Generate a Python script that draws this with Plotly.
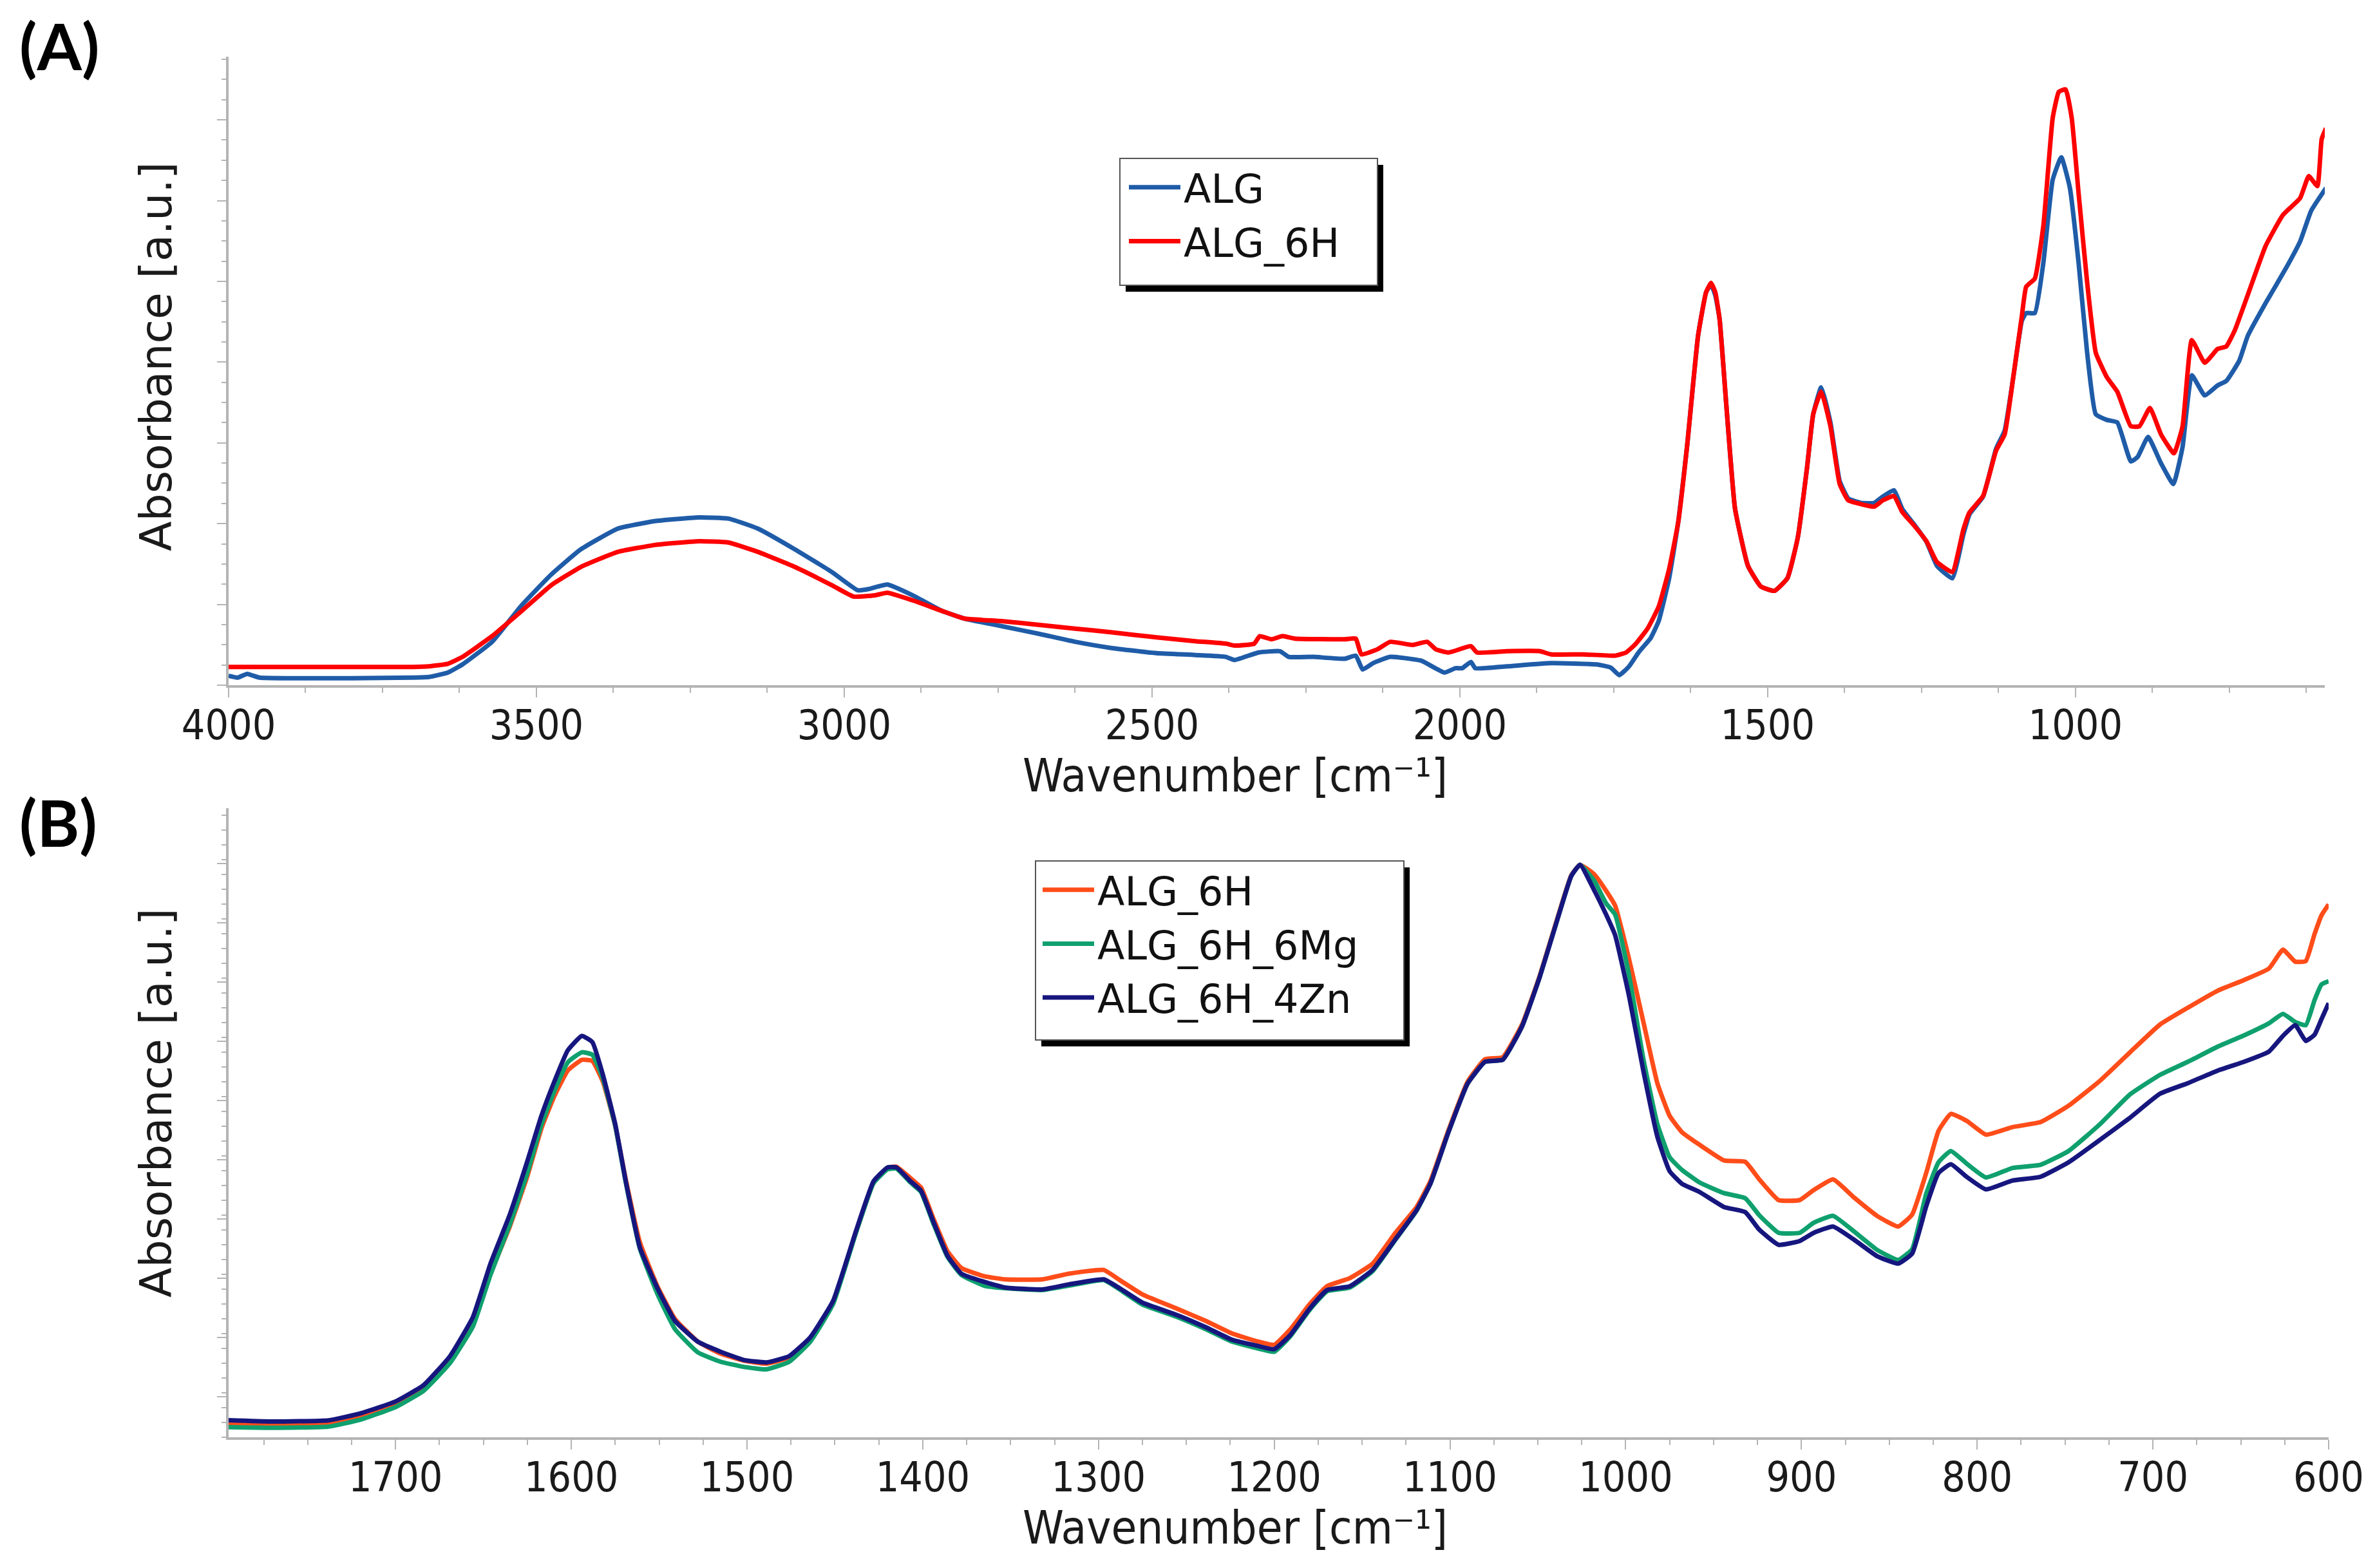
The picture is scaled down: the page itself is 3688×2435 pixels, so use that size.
import plotly.graph_objects as go

# ---- Panel A: ALG vs ALG_6H, 4000-600 cm-1 ----
wn_alg = [4000, 3985, 3970, 3950, 3900, 3800, 3700, 3674, 3644, 3620, 3572, 3524, 3476, 3428, 3368,
          3308, 3236, 3188, 3140, 3080, 3020, 2978, 2960, 2930, 2889, 2841, 2805, 2745, 2685, 2625,
          2565, 2493, 2430, 2380, 2366, 2327, 2292, 2278, 2239, 2187, 2169, 2158, 2141, 2113, 2063,
          2025, 2007, 1996, 1982, 1975, 1923, 1852, 1778, 1755, 1741, 1725, 1709, 1690, 1677, 1660,
          1645, 1631, 1613, 1600, 1592, 1585, 1578, 1567, 1553, 1532, 1511, 1489, 1468, 1451, 1436,
          1426, 1413, 1398, 1383, 1369, 1348, 1327, 1313, 1295, 1281, 1263, 1242, 1225, 1200, 1182,
          1172, 1150, 1129, 1115, 1101, 1087, 1080, 1066, 1052, 1037, 1023, 1009, 995, 981, 967,
          949, 932, 910, 899, 882, 861, 841, 826, 811, 790, 769, 755, 734, 720, 691, 656, 635, 617, 593]
abs_alg = [0.015, 0.012, 0.018, 0.012, 0.011, 0.011, 0.012, 0.013, 0.020, 0.033, 0.069, 0.127, 0.176,
           0.216, 0.249, 0.261, 0.267, 0.265, 0.249, 0.216, 0.180, 0.151, 0.153, 0.160, 0.143, 0.118,
           0.106, 0.094, 0.082, 0.069, 0.059, 0.051, 0.048, 0.045, 0.040, 0.052, 0.054, 0.045, 0.045,
           0.042, 0.047, 0.025, 0.035, 0.045, 0.039, 0.020, 0.027, 0.027, 0.037, 0.027, 0.030, 0.035,
           0.033, 0.028, 0.016, 0.030, 0.053, 0.075, 0.102, 0.170, 0.261, 0.379, 0.556, 0.625, 0.637,
           0.620, 0.582, 0.444, 0.281, 0.190, 0.157, 0.150, 0.170, 0.235, 0.346, 0.431, 0.474, 0.418,
           0.325, 0.297, 0.290, 0.290, 0.300, 0.310, 0.280, 0.257, 0.228, 0.190, 0.170, 0.240, 0.272,
           0.300, 0.376, 0.405, 0.490, 0.580, 0.592, 0.592, 0.673, 0.804, 0.840, 0.791, 0.673, 0.529,
           0.431, 0.422, 0.418, 0.356, 0.363, 0.395, 0.353, 0.320, 0.379, 0.493, 0.461, 0.477, 0.484,
           0.516, 0.556, 0.608, 0.667, 0.706, 0.755, 0.791]

wn_6h = [4000, 3900, 3800, 3700, 3674, 3644, 3620, 3572, 3524, 3476, 3428, 3368, 3308, 3236, 3188,
         3140, 3080, 3020, 2985, 2950, 2930, 2889, 2841, 2805, 2745, 2685, 2625, 2565, 2493, 2430,
         2380, 2366, 2334, 2325, 2306, 2288, 2268, 2187, 2169, 2160, 2134, 2113, 2077, 2053, 2039,
         2018, 1982, 1972, 1923, 1870, 1852, 1800, 1747, 1730, 1715, 1695, 1677, 1660, 1645, 1631,
         1613, 1600, 1592, 1585, 1578, 1567, 1553, 1532, 1511, 1489, 1468, 1451, 1436, 1426, 1413,
         1398, 1383, 1369, 1348, 1327, 1313, 1295, 1281, 1263, 1242, 1225, 1200, 1182, 1172, 1150,
         1129, 1115, 1101, 1087, 1080, 1066, 1052, 1037, 1027, 1016, 1006, 995, 981, 967, 949, 932,
         910, 896, 879, 861, 840, 826, 811, 790, 769, 755, 741, 720, 691, 663, 635, 621, 607, 600, 593]
abs_6h = [0.029, 0.029, 0.029, 0.029, 0.030, 0.034, 0.045, 0.078, 0.118, 0.159, 0.188, 0.212, 0.223,
          0.229, 0.227, 0.212, 0.188, 0.159, 0.141, 0.143, 0.147, 0.135, 0.118, 0.106, 0.102, 0.096,
          0.090, 0.084, 0.076, 0.070, 0.066, 0.063, 0.066, 0.078, 0.073, 0.078, 0.074, 0.073, 0.074,
          0.049, 0.057, 0.069, 0.064, 0.069, 0.057, 0.052, 0.062, 0.052, 0.054, 0.054, 0.049, 0.049,
          0.047, 0.052, 0.065, 0.090, 0.125, 0.185, 0.261, 0.379, 0.556, 0.625, 0.640, 0.625, 0.582,
          0.444, 0.281, 0.190, 0.157, 0.150, 0.170, 0.235, 0.346, 0.431, 0.467, 0.412, 0.320, 0.294,
          0.288, 0.284, 0.294, 0.301, 0.275, 0.255, 0.229, 0.196, 0.180, 0.248, 0.275, 0.301, 0.373,
          0.399, 0.490, 0.588, 0.634, 0.647, 0.732, 0.902, 0.944, 0.948, 0.902, 0.784, 0.641, 0.529,
          0.490, 0.467, 0.412, 0.412, 0.441, 0.399, 0.369, 0.412, 0.549, 0.513, 0.535, 0.539, 0.565,
          0.621, 0.699, 0.748, 0.775, 0.810, 0.794, 0.869, 0.886]

# ---- Panel B: fingerprint region, 1800-600 cm-1 ----
wn_b = [1795, 1771, 1738, 1720, 1700, 1684, 1669, 1656, 1646, 1635, 1625, 1617, 1610, 1602, 1594,
        1588, 1582, 1575, 1569, 1561, 1551, 1541, 1528, 1515, 1502, 1489, 1476, 1464, 1451, 1438,
        1428, 1420, 1415, 1407, 1401, 1394, 1386, 1378, 1365, 1353, 1332, 1317, 1297, 1288, 1275,
        1255, 1239, 1224, 1209, 1200, 1191, 1180, 1170, 1157, 1144, 1131, 1119, 1111, 1101, 1090,
        1080, 1070, 1059, 1049, 1039, 1031, 1026, 1018, 1011, 1006, 998, 990, 982, 975, 968, 958,
        944, 932, 924, 913, 901, 893, 882, 870, 857, 845, 837, 829, 822, 815, 806, 795, 780, 764,
        748, 730, 713, 696, 680, 663, 648, 634, 626, 619, 613, 608, 604, 600]
abs_b_6h = [0.021, 0.020, 0.022, 0.033, 0.052, 0.078, 0.122, 0.180, 0.260, 0.335, 0.415, 0.491, 0.540,
            0.583, 0.600, 0.598, 0.565, 0.495, 0.410, 0.310, 0.240, 0.188, 0.152, 0.133, 0.122, 0.117,
            0.127, 0.157, 0.215, 0.326, 0.405, 0.428, 0.430, 0.412, 0.397, 0.348, 0.296, 0.269, 0.256,
            0.251, 0.251, 0.260, 0.266, 0.250, 0.227, 0.204, 0.185, 0.165, 0.152, 0.147, 0.171, 0.211,
            0.240, 0.253, 0.276, 0.325, 0.366, 0.408, 0.487, 0.565, 0.601, 0.604, 0.656, 0.733, 0.824,
            0.893, 0.910, 0.895, 0.868, 0.845, 0.759, 0.661, 0.563, 0.511, 0.485, 0.465, 0.440, 0.438,
            0.410, 0.377, 0.377, 0.393, 0.410, 0.381, 0.352, 0.335, 0.354, 0.420, 0.487, 0.514, 0.503,
            0.481, 0.493, 0.501, 0.527, 0.567, 0.612, 0.656, 0.683, 0.710, 0.727, 0.745, 0.775, 0.756,
            0.757, 0.800, 0.830, 0.847]
abs_b_mg = [0.016, 0.015, 0.017, 0.028, 0.048, 0.074, 0.118, 0.176, 0.258, 0.338, 0.420, 0.497, 0.548,
            0.596, 0.612, 0.608, 0.570, 0.495, 0.405, 0.300, 0.228, 0.172, 0.135, 0.120, 0.112, 0.108,
            0.120, 0.152, 0.212, 0.325, 0.404, 0.426, 0.427, 0.405, 0.390, 0.340, 0.287, 0.258, 0.241,
            0.237, 0.234, 0.241, 0.250, 0.235, 0.211, 0.191, 0.172, 0.152, 0.141, 0.136, 0.160, 0.202,
            0.232, 0.238, 0.264, 0.314, 0.360, 0.404, 0.484, 0.562, 0.597, 0.600, 0.653, 0.731, 0.822,
            0.892, 0.910, 0.885, 0.848, 0.831, 0.733, 0.602, 0.498, 0.445, 0.425, 0.405, 0.388, 0.380,
            0.353, 0.325, 0.325, 0.341, 0.352, 0.327, 0.298, 0.282, 0.299, 0.387, 0.437, 0.455, 0.435,
            0.413, 0.428, 0.433, 0.455, 0.498, 0.545, 0.576, 0.597, 0.621, 0.639, 0.658, 0.673, 0.660,
            0.655, 0.695, 0.720, 0.725]
abs_b_zn = [0.027, 0.025, 0.027, 0.038, 0.057, 0.083, 0.129, 0.191, 0.276, 0.354, 0.439, 0.511, 0.563,
            0.615, 0.638, 0.628, 0.576, 0.498, 0.407, 0.302, 0.237, 0.185, 0.152, 0.136, 0.123, 0.119,
            0.129, 0.159, 0.217, 0.328, 0.407, 0.429, 0.429, 0.407, 0.392, 0.343, 0.289, 0.260, 0.247,
            0.238, 0.235, 0.243, 0.251, 0.237, 0.214, 0.194, 0.175, 0.155, 0.145, 0.140, 0.162, 0.204,
            0.234, 0.240, 0.266, 0.315, 0.361, 0.404, 0.484, 0.562, 0.597, 0.600, 0.653, 0.731, 0.822,
            0.892, 0.910, 0.870, 0.830, 0.798, 0.700, 0.583, 0.478, 0.423, 0.403, 0.390, 0.366, 0.358,
            0.330, 0.306, 0.312, 0.325, 0.335, 0.314, 0.288, 0.276, 0.292, 0.367, 0.420, 0.434, 0.414,
            0.394, 0.408, 0.414, 0.437, 0.473, 0.508, 0.546, 0.563, 0.583, 0.597, 0.613, 0.638, 0.655,
            0.630, 0.640, 0.665, 0.690]

ticks_a = [4000, 3500, 3000, 2500, 2000, 1500, 1000]
ticks_b = [1700, 1600, 1500, 1400, 1300, 1200, 1100, 1000, 900, 800, 700, 600]

W, H = 3688, 2435
AXIS_GREY = "#b4b4b4"
TICK_FONT = dict(family="DejaVu Sans Condensed, Liberation Sans, sans-serif", size=64, color="#1a1a1a")
TITLE_FONT = dict(family="DejaVu Sans Condensed, Liberation Sans, sans-serif", size=72, color="#1a1a1a")

fig = go.Figure()

line_kw = dict(mode="lines", line_shape="spline")
fig.add_trace(go.Scatter(x=wn_alg, y=abs_alg, name="ALG", xaxis="x", yaxis="y", legend="legend",
                         line=dict(color="#1f5ca8", width=7, smoothing=0.4), **line_kw))
fig.add_trace(go.Scatter(x=wn_6h, y=abs_6h, name="ALG_6H", xaxis="x", yaxis="y", legend="legend",
                         line=dict(color="#ff0000", width=7, smoothing=0.4), **line_kw))
fig.add_trace(go.Scatter(x=wn_b, y=abs_b_6h, name="ALG_6H", xaxis="x2", yaxis="y2", legend="legend2",
                         line=dict(color="#ff4d1a", width=7, smoothing=0.4), **line_kw))
fig.add_trace(go.Scatter(x=wn_b, y=abs_b_mg, name="ALG_6H_6Mg", xaxis="x2", yaxis="y2", legend="legend2",
                         line=dict(color="#0fa06e", width=7, smoothing=0.4), **line_kw))
fig.add_trace(go.Scatter(x=wn_b, y=abs_b_zn, name="ALG_6H_4Zn", xaxis="x2", yaxis="y2", legend="legend2",
                         line=dict(color="#16167e", width=7, smoothing=0.4), **line_kw))


def x_axis(domain, rng, tickvals, minor_step, anchor):
    return dict(domain=domain, range=rng, anchor=anchor, tickvals=tickvals, ticks="outside",
                ticklen=15, tickwidth=2, tickcolor=AXIS_GREY, showline=True, linecolor=AXIS_GREY,
                linewidth=4, showgrid=False, zeroline=False, tickfont=TICK_FONT,
                ticklabelstandoff=-12, automargin=False,
                minor=dict(dtick=minor_step, ticks="outside", ticklen=8, tickwidth=2,
                           tickcolor=AXIS_GREY, showgrid=False))


def y_axis(domain, tick0, step, anchor):
    return dict(domain=domain, range=[0, 1], anchor=anchor, tick0=tick0, dtick=step, ticks="outside",
                ticklen=14, tickwidth=2, tickcolor=AXIS_GREY, showline=True, linecolor=AXIS_GREY,
                linewidth=4, showgrid=False, zeroline=False, showticklabels=False, automargin=False,
                minor=dict(dtick=step / 4, ticks="outside", ticklen=7, tickwidth=2,
                           tickcolor=AXIS_GREY, showgrid=False))


xa_dom = [347 / W, 3602 / W]
ya_dom = [1 - 1056 / H, 1 - 80 / H]
xb_dom = [347 / W, 3608 / W]
yb_dom = [1 - 2224 / H, 1 - 1247 / H]

legend_font = dict(family="DejaVu Sans, Verdana, sans-serif", size=62, color="#111111")
legend_kw = dict(xanchor="left", yanchor="top", bgcolor="rgba(0,0,0,0)", borderwidth=0,
                 font=legend_font, itemwidth=80, tracegroupgap=0)

fig.update_layout(
    width=W, height=H, autosize=False,
    margin=dict(l=0, r=0, t=0, b=0, autoexpand=False),
    paper_bgcolor="white", plot_bgcolor="white",
    showlegend=True,
    xaxis=x_axis(xa_dom, [4000, 595], ticks_a, 125, "y"),
    yaxis=y_axis(ya_dom, 0, 0.1285, "x"),
    xaxis2=x_axis(xb_dom, [1795, 600], ticks_b, 25, "y2"),
    yaxis2=y_axis(yb_dom, 0.0645, 0.0942, "x2"),
    legend=dict(x=1740 / W, y=1 - 236 / H, **legend_kw),
    legend2=dict(x=1606 / W, y=1 - 1327 / H, **legend_kw),
)

# legend frames with a black drop shadow, as in the original figure
for x0, y0, x1, y1 in [(1731, 238, 2131, 435), (1600, 1329, 2172, 1607)]:
    fig.add_shape(type="rect", xref="paper", yref="paper", layer="above",
                  x0=(x0 + 9) / W, x1=(x1 + 9) / W, y0=1 - (y1 + 10) / H, y1=1 - (y0 + 10) / H,
                  fillcolor="black", line=dict(width=0))
    fig.add_shape(type="rect", xref="paper", yref="paper", layer="above",
                  x0=x0 / W, x1=x1 / W, y0=1 - y1 / H, y1=1 - y0 / H,
                  fillcolor="white", line=dict(color="#555555", width=2))

ytitle_font = dict(family="DejaVu Sans, Verdana, sans-serif", size=68, color="#1a1a1a")
for ypos in [1 - 546 / H, 1 - 1705 / H]:
    fig.add_annotation(text="Absorbance [a.u.]", xref="paper", yref="paper", x=234 / W, y=ypos,
                       textangle=-90, showarrow=False, font=ytitle_font,
                       xanchor="center", yanchor="middle")
for ypos in [1 - 1196 / H, 1 - 2364 / H]:
    fig.add_annotation(text="Wavenumber [cm\u207b\u00b9]", xref="paper", yref="paper", x=1910 / W,
                       y=ypos, showarrow=False, font=TITLE_FONT, xanchor="center", yanchor="middle")

panel_font = dict(family="Lato, Liberation Sans, sans-serif", size=100, color="black", weight="bold")
for label, ypos in [("(A)", 1 - 62 / H), ("(B)", 1 - 1268 / H)]:
    fig.add_annotation(text="<b>%s</b>" % label, xref="paper", yref="paper", x=20 / W, y=ypos,
                       showarrow=False, font=panel_font, xanchor="left", yanchor="middle")

fig.write_html("out.html")
